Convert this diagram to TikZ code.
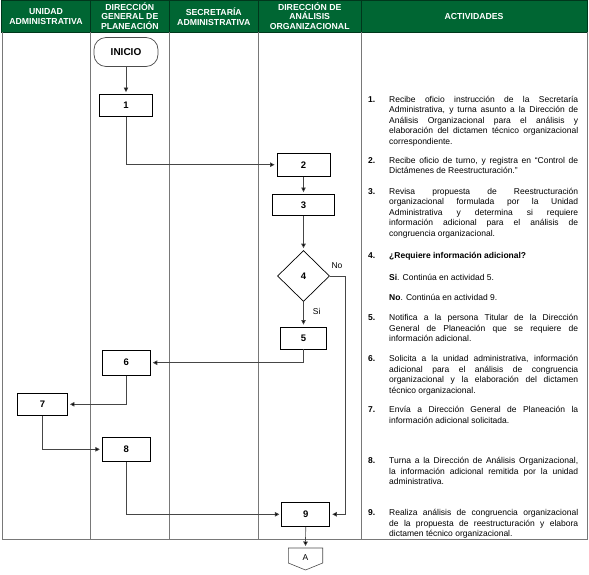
\documentclass[tikz,border=0pt]{standalone}
\usepackage{fontspec}
\setmainfont{Liberation Sans}
\usetikzlibrary{arrows.meta,shapes.geometric}
\definecolor{hdrgreen}{RGB}{0,102,51}
\definecolor{hdrline}{RGB}{0,55,28}
\definecolor{gridgray}{RGB}{120,120,120}
\definecolor{conngray}{RGB}{70,70,70}
\hyphenpenalty=10000
\exhyphenpenalty=10000
\tolerance=9999
\hbadness=10000
\begin{document}
\begin{tikzpicture}[x=1pt,y=-1pt,
  hdr/.style={text=white, font=\bfseries\fontsize{8.7}{9.3}\selectfont, align=center, inner sep=0pt},
  grid/.style={draw=gridgray, line width=0.6pt},
  box/.style={draw=black, line width=0.9pt, inner sep=0pt, fill=white, font=\bfseries\fontsize{9.5}{10}\selectfont},
  term/.style={draw=black!70, line width=0.7pt, rounded corners=12pt, inner sep=0pt, fill=white, minimum width=64pt, minimum height=29pt, font=\bfseries\fontsize{10}{11}\selectfont},
  dia/.style={diamond, draw=black, line width=0.7pt, inner sep=0pt, aspect=1, fill=white, minimum width=52pt, minimum height=51pt, font=\bfseries\fontsize{9.5}{10}\selectfont},
  conn/.style={draw=conngray, line width=0.7pt, -{Triangle[length=4.5pt,width=4.5pt,fill=black]}, shorten >=2pt},
  lbl/.style={inner sep=0pt, font=\fontsize{8.5}{10}\selectfont},
  act/.style={anchor=base west, inner sep=0pt, text width=189pt, align=justify, font=\fontsize{8.5}{10.6}\selectfont},
  num/.style={anchor=base west, inner sep=0pt, font=\bfseries\fontsize{8.5}{10.6}\selectfont}
]
\useasboundingbox (0,0) rectangle (589,574);
% header
\fill[hdrgreen] (1,0) rectangle (587,32);
\draw[hdrline, line width=0.7pt] (1,0) rectangle (587,32);
\foreach \xx in {90.3,169.3,258.3,361} \draw[hdrline, line width=0.7pt] (\xx,0) -- (\xx,32);
% body grid
\draw[grid] (2,32) -- (2,539) -- (587,539) -- (587,32);
\foreach \xx in {90.3,169.3,258.3,361} \draw[grid] (\xx,32) -- (\xx,539);
% header texts
\node[hdr] (h1) at (46,16.6) {UNIDAD\\ADMINISTRATIVA};
\node[hdr] (h2) at (129.8,16) {DIRECCIÓN\\GENERAL DE\\PLANEACIÓN};
\node[hdr] (h3) at (213.8,16.6) {SECRETARÍA\\ADMINISTRATIVA};
\node[hdr] (h4) at (309.7,16) {DIRECCIÓN DE\\ANÁLISIS\\ORGANIZACIONAL};
\node[hdr] (h5) at (474,16.6) {ACTIVIDADES};
% flow nodes
\node[term] (ini) at (126,52) {INICIO};
\node[box, minimum width=53pt, minimum height=22pt] (b1) at (126,105.5) {1};
\node[box, minimum width=53pt, minimum height=23pt] (b2) at (303.5,164.7) {2};
\node[box, minimum width=62pt, minimum height=21pt] (b3) at (303.5,205) {3};
\node[dia] (d4) at (303.5,276) {4};
\node[box, minimum width=46pt, minimum height=22pt] (b5) at (303.5,338) {5};
\node[box, minimum width=48pt, minimum height=25pt] (b6) at (126.3,362.7) {6};
\node[box, minimum width=50pt, minimum height=22pt] (b7) at (42.5,404.3) {7};
\node[box, minimum width=48pt, minimum height=24pt] (b8) at (126.3,449.3) {8};
\node[box, minimum width=48pt, minimum height=24pt] (b9) at (305.8,514.3) {9};
\coordinate (Atop) at (305.5,548);
\draw[draw=black!70, line width=0.6pt] (288.3,548) -- (322.7,548) -- (322.7,563) -- (305.5,570) -- (288.3,563) -- cycle;
\node[lbl] (Alab) at (305.5,557.5) {A};
\node[lbl] (no) at (337,265.7) {No};
\node[lbl] (si) at (316.7,311.7) {Si};
% connectors
\draw[conn] (ini) -- (b1);
\draw[conn] (b1.south) |- (b2.west);
\draw[conn] (b2) -- (b3);
\draw[conn] (b3) -- (d4);
\draw[conn] (d4.east) -- ++(15,0) |- (b9.east);
\draw[conn] (d4) -- (b5);
\draw[conn] (b5.south) |- (b6.east);
\draw[conn] (b6.south) |- (b7.east);
\draw[conn] (b7.south) |- (b8.west);
\draw[conn] (b8.south) |- (b9.west);
\draw[conn] (b9) -- (Atop);
% activities
\node[num] (n1) at (368,102) {1.};
\node[act] (t1) at (389,102) {Recibe oficio instrucción de la Secretaría\linebreak Administrativa, y turna asunto a la Dirección de\linebreak Análisis Organizacional para el análisis y\linebreak elaboración del dictamen técnico organizacional\linebreak correspondiente.};
\node[num] (n2) at (368,163) {2.};
\node[act] (t2) at (389,163) {Recibe oficio de turno, y registra en “Control de\linebreak Dictámenes de Reestructuración.”};
\node[num] (n3) at (368,194) {3.};
\node[act] (t3) at (389,194) {Revisa propuesta de Reestructuración\linebreak organizacional formulada por la Unidad\linebreak Administrativa y determina si requiere\linebreak información adicional para el análisis de\linebreak congruencia organizacional.};
\node[num] (n4) at (368,258.5) {4.};
\node[act] (t4) at (389,258.5) {\textbf{¿Requiere información adicional?}};
\node[act] (t4a) at (389,280.5) {\textbf{Si}. Continúa en actividad 5.};
\node[act] (t4b) at (389,300.5) {\textbf{No}. Continúa en actividad 9.};
\node[num] (n5) at (368,320.5) {5.};
\node[act] (t5) at (389,320.5) {Notifica a la persona Titular de la Dirección\linebreak General de Planeación que se requiere de\linebreak información adicional.};
\node[num] (n6) at (368,361.5) {6.};
\node[act] (t6) at (389,361.5) {Solicita a la unidad administrativa, información\linebreak adicional para el análisis de congruencia\linebreak organizacional y la elaboración del dictamen\linebreak técnico organizacional.};
\node[num] (n7) at (368,412.5) {7.};
\node[act] (t7) at (389,412.5) {Envía a Dirección General de Planeación la\linebreak información adicional solicitada.};
\node[num] (n8) at (368,463.5) {8.};
\node[act] (t8) at (389,463.5) {Turna a la Dirección de Análisis Organizacional,\linebreak la información adicional remitida por la unidad\linebreak administrativa.};
\node[num] (n9) at (368,515.5) {9.};
\node[act] (t9) at (389,515.5) {Realiza análisis de congruencia organizacional\linebreak de la propuesta de reestructuración y elabora\linebreak dictamen técnico organizacional.};
\end{tikzpicture}
\end{document}
